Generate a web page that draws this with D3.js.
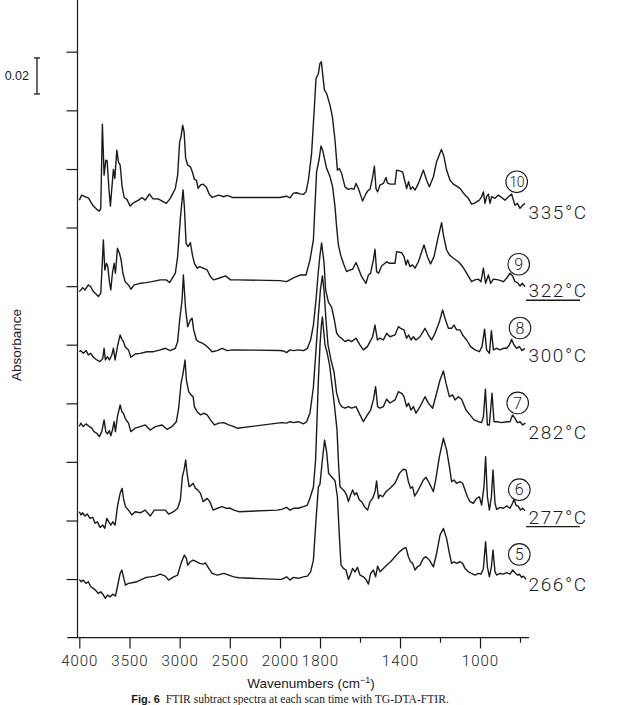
<!DOCTYPE html>
<html><head><meta charset="utf-8">
<script src="https://cdn.jsdelivr.net/npm/d3@7"></script>
<style>body{margin:0;background:#fff} svg{display:block}</style>
</head><body><svg id="c" width="617" height="705"></svg>
<script>
// ---- data (absorbance in mAbs, 0.02 Abs = 20 mAbs) ----
const scanNo = [10, 9, 8, 7, 6, 5];
const temps = ["335°C", "322°C", "300°C", "282°C", "277°C", "266°C"];
const underlined = [false, true, false, false, true, false];
const offsets = [244.4, 198.6, 159.3, 117.1, 70.0, 32.4];
const xTicksMajor = [4000, 3500, 3000, 2500, 2000, 1800, 1400, 1000];
const xTicksMinor = [1600, 1200, 800];
const yTicks = [32.6, 65.1, 97.7, 130.2, 162.8, 195.3, 227.9, 260.4, 293.0, 325.6];
const scaleBarValue = 20; // 0.02 Abs

const s335 = [[4000,-1.3],[3976,1.5],[3943,0.6],[3910,0],[3886,-2.2],[3860,-4.6],[3826,-6.4],[3800,-7.4],[3786,-5.9],[3770,40.9],[3753,12.6],[3736,20.9],[3723,20.6],[3706,6.1],[3690,-4.6],[3676,5.2],[3660,15.8],[3646,10.8],[3626,26.5],[3610,20.0],[3593,18.2],[3573,6.1],[3553,0.2],[3526,-0.9],[3493,-4.6],[3460,-2.8],[3410,-1.3],[3376,0.2],[3343,-1.3],[3300,2.1],[3266,-0.6],[3210,-0.7],[3133,-3.1],[3093,-0.3],[3043,5.2],[3020,12.6],[3000,31.1],[2986,33.9],[2970,40.4],[2956,36.7],[2940,21.9],[2920,18.2],[2893,17.2],[2873,14.4],[2853,10.2],[2833,9.8],[2816,5.2],[2793,7.1],[2766,7.6],[2733,5.8],[2706,2.1],[2676,0.2],[2610,1.5],[2560,0.6],[2526,1.3],[2476,0.2],[2000,0.2],[1983,0.6],[1967,0.9],[1950,0],[1933,2.6],[1917,2.8],[1900,2.2],[1883,1.9],[1870,3.3],[1858,9.8],[1842,24.7],[1828,50.6],[1820,66.3],[1808,69.1],[1800,74.7],[1793,75.6],[1787,69.1],[1778,59.8],[1767,58.0],[1750,51.5],[1738,45.0],[1725,32.1],[1713,15.4],[1703,16.3],[1692,13.6],[1675,6.1],[1658,4.7],[1642,5.2],[1630,4.7],[1620,8.0],[1608,5.2],[1597,1.5],[1587,-1.8],[1570,2.4],[1558,4.3],[1550,4.7],[1538,10.8],[1528,17.6],[1520,5.2],[1512,3.3],[1500,7.1],[1483,8.0],[1470,11.3],[1463,8.3],[1450,7.6],[1425,7.6],[1417,15.4],[1403,15.0],[1387,14.4],[1375,8.9],[1367,5.2],[1357,8.9],[1347,4.7],[1337,6.1],[1325,4.3],[1308,8.0],[1283,15.4],[1267,9.8],[1253,6.1],[1233,11.7],[1217,20.0],[1193,26.9],[1180,22.8],[1167,15.4],[1150,9.8],[1133,7.6],[1117,6.5],[1100,5.2],[1075,1.5],[1058,-0.3],[1042,-3.5],[1025,-2.8],[1003,-1.3],[992,0.6],[983,3.3],[975,-3.1],[967,0.6],[958,2.1],[950,-3.1],[942,0.6],[925,-0.3],[908,1.5],[892,0.2],[875,-1.3],[858,0.6],[842,2.1],[833,-1.3],[825,-4.1],[813,-3.1],[800,-5.9],[787,-4.1],[775,-3.1]];

const s322 = [[4000,-6.3],[3966,-4.1],[3943,-5.4],[3910,-2.6],[3886,-3.6],[3860,-6.3],[3833,-7.6],[3810,-9.1],[3786,-7.2],[3773,7.6],[3760,22.4],[3746,5.7],[3730,9.4],[3716,7.6],[3700,-0.8],[3686,-5.4],[3670,3.9],[3653,9.4],[3640,3.9],[3620,17.8],[3600,15.0],[3583,11.3],[3566,3.9],[3543,-0.8],[3510,-2.6],[3486,-5.0],[3453,-2.6],[3393,-1.7],[3333,-1.3],[3276,-0.8],[3193,0.2],[3133,0.2],[3100,-1.3],[3043,3.9],[3020,13.1],[2993,34.4],[2966,50.2],[2953,40.9],[2936,20.6],[2916,18.7],[2893,20.9],[2873,14.1],[2853,9.4],[2826,6.7],[2800,7.6],[2766,6.7],[2726,5.7],[2693,2.0],[2660,0.2],[2610,1.1],[2543,2.4],[2493,0.2],[2426,0.2],[2000,-0.2],[1967,-0.8],[1933,1.3],[1900,2.9],[1870,2.9],[1850,11.3],[1833,22.4],[1825,41.8],[1817,60.2],[1805,66.8],[1795,74.6],[1787,72.4],[1767,62.2],[1750,57.6],[1737,52.0],[1725,40.9],[1717,29.8],[1708,19.6],[1697,14.1],[1680,8.5],[1667,4.8],[1650,5.7],[1637,6.1],[1620,9.8],[1608,6.7],[1592,2.0],[1570,-1.7],[1558,2.9],[1547,3.9],[1533,11.3],[1525,17.2],[1517,4.8],[1507,3.9],[1492,7.9],[1475,9.4],[1467,10.3],[1453,9.4],[1425,9.4],[1417,15.9],[1392,15.3],[1380,13.1],[1370,8.5],[1362,11.3],[1350,7.6],[1337,8.5],[1325,6.7],[1308,10.3],[1280,19.6],[1263,13.1],[1247,9.1],[1230,13.1],[1210,23.5],[1192,32.0],[1183,25.2],[1167,16.8],[1153,14.1],[1133,12.2],[1108,10.3],[1087,7.6],[1067,3.9],[1042,-0.8],[1025,0.2],[1008,0.6],[995,-0.8],[983,6.7],[972,-1.7],[958,2.9],[947,-1.7],[933,0.6],[908,0.2],[883,-0.8],[867,1.1],[850,3.9],[837,2.4],[825,-0.8],[813,-1.3],[800,-3.2],[788,-1.7],[775,-3.6]];

const s300 = [[4000,-0.4],[3986,0.2],[3960,-1.3],[3933,0.2],[3910,-2.2],[3886,-1.3],[3860,-3.5],[3826,-5.0],[3793,-5.9],[3766,-4.1],[3753,1.5],[3740,-5.0],[3720,-3.2],[3700,-5.0],[3676,-2.2],[3660,1.5],[3643,-5.0],[3620,2.4],[3593,8.9],[3576,6.5],[3560,5.2],[3543,2.4],[3510,0.6],[3486,-3.5],[3443,-1.7],[3393,-1.3],[3326,-0.4],[3260,-0.4],[3193,0.6],[3143,1.5],[3093,0.2],[3043,1.5],[3020,5.2],[3000,17.2],[2976,28.3],[2963,42.2],[2940,22.8],[2920,13.5],[2893,17.2],[2876,18.2],[2860,11.7],[2833,6.1],[2810,5.2],[2776,4.3],[2743,3.3],[2710,1.5],[2676,-0.4],[2626,0.2],[2576,1.5],[2526,0.2],[2476,0.6],[2000,0.3],[1983,0],[1967,-0.9],[1950,0.6],[1933,0.2],[1908,0.6],[1883,0.2],[1863,1.5],[1847,6.1],[1833,14.4],[1820,28.3],[1810,42.2],[1800,53.3],[1792,60.0],[1780,49.4],[1772,33.9],[1758,27.2],[1742,24.4],[1728,17.2],[1717,10.0],[1703,7.8],[1692,7.1],[1675,5.2],[1658,6.1],[1642,5.2],[1620,7.1],[1600,3.3],[1583,0.6],[1563,2.4],[1550,5.2],[1537,7.9],[1525,14.4],[1513,6.1],[1500,7.1],[1483,6.1],[1467,9.8],[1450,7.9],[1425,8.9],[1408,13.5],[1397,12.6],[1380,11.7],[1367,7.1],[1357,8.9],[1345,6.1],[1333,7.9],[1320,6.1],[1300,7.9],[1275,12.6],[1258,8.9],[1242,6.1],[1225,9.8],[1203,16.3],[1187,22.8],[1175,18.2],[1158,12.6],[1142,12.6],[1130,14.4],[1117,11.7],[1100,11.7],[1087,8.9],[1067,6.1],[1047,2.4],[1025,0.6],[1003,-0.4],[990,2.4],[977,12.1],[967,0.6],[953,-1.3],[943,11.3],[933,0.6],[917,1.5],[900,0.6],[883,1.5],[867,1.5],[853,3.3],[842,6.5],[830,3.3],[817,1.5],[803,2.4],[790,0.2],[775,1.5]];

const s282 = [[4000,0.2],[3986,2.1],[3960,0.2],[3933,1.7],[3900,0.2],[3876,-0.7],[3853,-2.6],[3826,-3.5],[3800,-5.4],[3776,-2.6],[3753,3.9],[3736,-2.6],[3720,-3.9],[3700,-2.1],[3686,-5.0],[3670,-1.7],[3653,2.9],[3640,-2.6],[3620,5.7],[3593,12.2],[3576,8.5],[3560,7.6],[3543,4.8],[3510,2.1],[3486,-2.6],[3443,-0.7],[3393,0.2],[3343,1.1],[3293,-1.7],[3243,0.2],[3176,1.1],[3126,-1.3],[3076,0.2],[3033,2.9],[3010,10.4],[2986,24.3],[2966,29.8],[2946,37.2],[2933,26.1],[2910,19.6],[2886,17.8],[2866,16.8],[2853,11.3],[2826,8.5],[2793,6.7],[2760,7.6],[2726,6.7],[2693,3.9],[2653,1.1],[2610,2.1],[2560,2.4],[2510,1.1],[2460,0.2],[2426,-0.7],[1992,2.4],[1967,2.1],[1950,2.9],[1933,2.4],[1908,2.9],[1883,1.7],[1867,2.9],[1850,7.8],[1833,22.2],[1820,42.8],[1808,62.2],[1798,76.1],[1788,83.9],[1780,76.1],[1770,59.4],[1760,45.6],[1745,37.2],[1730,30.6],[1717,18.9],[1703,13.3],[1692,11.3],[1675,10.4],[1658,11.3],[1642,10.4],[1620,11.3],[1600,6.7],[1583,2.9],[1563,6.7],[1547,9.4],[1533,15.0],[1522,22.4],[1512,11.3],[1500,10.4],[1483,11.3],[1467,15.4],[1450,13.3],[1425,15.0],[1408,19.6],[1392,18.7],[1380,16.8],[1367,11.3],[1357,13.2],[1345,9.4],[1333,11.3],[1320,7.6],[1300,11.3],[1275,16.8],[1258,13.2],[1237,10.4],[1217,18.7],[1200,26.1],[1183,31.1],[1170,24.3],[1153,16.8],[1137,17.8],[1125,15.0],[1108,16.8],[1092,15.4],[1070,9.4],[1050,6.7],[1030,3.9],[1008,2.9],[992,2.4],[983,5.7],[973,20.9],[963,1.1],[953,1.1],[940,18.7],[930,2.9],[913,2.9],[892,2.4],[867,2.9],[850,2.9],[837,6.7],[825,4.8],[813,2.4],[800,2.9],[787,1.1],[773,2.1]];

const s277 = [[4000,0],[3983,-1.8],[3966,-0.6],[3943,-2.4],[3920,-1.3],[3893,-3.7],[3866,-3.1],[3843,-6.4],[3820,-5.6],[3793,-8.7],[3766,-7.4],[3746,-9.2],[3726,-3.7],[3706,-5.6],[3686,-7.4],[3666,-5.6],[3643,-7.4],[3620,2.8],[3593,10.2],[3573,13.0],[3560,7.4],[3540,2.8],[3510,0.9],[3476,-1.8],[3443,0],[3393,-0.6],[3343,0.9],[3293,-2.4],[3253,0.9],[3193,0.9],[3143,0.9],[3110,-1.3],[3060,0],[3020,1.9],[2993,6.5],[2973,19.4],[2956,23.2],[2940,28.7],[2926,21.3],[2906,13.9],[2883,14.8],[2866,15.8],[2843,13.0],[2820,12.1],[2793,10.2],[2766,5.6],[2726,7.4],[2700,5.6],[2666,0.9],[2626,1.9],[2576,2.8],[2533,1.9],[2493,1.9],[2460,0.9],[2410,0],[2026,0.9],[1992,1.3],[1967,2.4],[1950,0.9],[1933,1.9],[1908,1.9],[1883,2.8],[1863,3.7],[1850,7.6],[1833,13.7],[1822,28.7],[1815,50.9],[1808,73.2],[1800,92.6],[1793,103.7],[1788,108.2],[1782,101.0],[1775,92.6],[1765,88.7],[1752,81.5],[1740,70.4],[1728,59.3],[1715,45.4],[1707,25.9],[1700,13.9],[1692,13.0],[1680,11.7],[1667,9.3],[1658,5.6],[1647,9.3],[1637,12.1],[1627,9.3],[1617,10.6],[1603,6.5],[1592,5.6],[1575,2.4],[1562,0.9],[1550,5.6],[1537,7.4],[1525,11.1],[1517,17.1],[1508,7.4],[1500,9.3],[1487,8.3],[1470,11.1],[1450,13.0],[1425,15.8],[1403,21.3],[1383,23.6],[1370,23.2],[1358,16.7],[1347,13.0],[1337,13.9],[1327,8.7],[1313,11.1],[1300,13.9],[1283,17.6],[1270,19.1],[1253,15.8],[1233,11.1],[1220,18.6],[1203,30.6],[1183,40.8],[1167,34.3],[1153,25.0],[1142,16.7],[1130,17.6],[1117,15.8],[1100,16.7],[1087,15.8],[1075,12.1],[1063,8.3],[1050,5.6],[1033,4.7],[1017,7.4],[1003,8.3],[992,3.7],[980,13.9],[972,30.6],[963,8.3],[953,0.9],[943,8.3],[935,23.2],[925,4.7],[917,1.3],[900,2.4],[883,1.9],[867,3.2],[850,1.9],[837,4.7],[830,6.9],[820,3.7],[808,2.8],[797,0.9],[787,1.9],[775,0.6]];

const s266 = [[4000,0],[3980,-1.3],[3960,-0.4],[3933,-2.2],[3910,-1.3],[3886,-4.1],[3860,-5.0],[3833,-6.3],[3810,-7.8],[3786,-6.9],[3760,-8.7],[3740,-10.6],[3720,-8.7],[3693,-9.7],[3666,-8.2],[3640,-9.3],[3620,-4.1],[3593,3.3],[3576,5.2],[3560,1.4],[3540,-3.2],[3510,-2.2],[3476,-1.9],[3426,-1.3],[3376,0],[3333,1.1],[3293,1.4],[3243,1.8],[3193,2.9],[3143,1.8],[3110,-0.4],[3060,1.4],[3020,2.4],[2986,8.9],[2953,13.5],[2933,11.7],[2920,7.9],[2893,9.8],[2866,10.7],[2833,9.8],[2800,8.9],[2766,8.5],[2743,9.2],[2710,6.1],[2676,3.3],[2626,2.4],[2560,3.3],[2510,2.4],[2460,1.4],[2410,0.9],[2026,0],[1992,0],[1967,1.4],[1950,-0.4],[1933,1.1],[1908,0.6],[1883,1.4],[1863,1.8],[1847,4.2],[1833,10.7],[1820,32.9],[1808,51.4],[1800,52.9],[1790,64.4],[1777,77.4],[1767,70.9],[1757,58.9],[1742,57.0],[1725,54.8],[1713,45.9],[1703,23.7],[1695,7.9],[1683,6.1],[1670,5.2],[1658,0],[1647,2.9],[1637,6.1],[1625,4.2],[1613,6.7],[1600,2.4],[1583,1.4],[1570,0],[1558,-2.6],[1547,3.3],[1533,5.2],[1522,1.4],[1512,7.4],[1500,4.2],[1483,6.1],[1467,7.9],[1447,9.8],[1425,12.6],[1403,15.3],[1383,17.2],[1370,17.6],[1358,12.6],[1347,9.8],[1337,8.9],[1325,5.2],[1313,7.0],[1300,7.9],[1283,11.7],[1270,12.6],[1253,10.7],[1233,7.0],[1217,14.4],[1200,24.6],[1183,28.3],[1167,22.8],[1153,14.4],[1142,8.9],[1130,9.8],[1117,8.9],[1100,9.8],[1087,8.9],[1075,6.1],[1058,4.2],[1042,3.3],[1025,2.4],[1008,3.3],[995,2.9],[983,6.1],[972,20.9],[963,7.0],[953,1.4],[943,7.0],[935,16.3],[925,4.2],[917,2.4],[900,3.3],[883,2.9],[867,3.7],[850,2.9],[837,5.2],[825,3.7],[813,2.4],[803,2.9],[792,1.1],[783,1.8],[770,0]];

const spectra = [s335, s322, s300, s282, s277, s266];

// ---- layout ----
const svg = d3.select("#c");
const x = d3.scaleLinear().domain([4000, 2000, 800]).range([79.3, 280, 520]);
const y = d3.scaleLinear().domain([0, 354.3]).range([637.7, 0]);
const ink = "#1a1a1a";
const sans = "Liberation Sans, Arial, sans-serif";
const thin = "Roboto, Liberation Sans, Arial, sans-serif";

// y axis
const yAxisX = 77.5;
const gy = svg.append("g").attr("transform", `translate(${yAxisX},0)`)
  .call(d3.axisLeft(y).tickValues(yTicks).tickSize(11).tickFormat(""));
gy.select(".domain").remove();
gy.selectAll("line").attr("stroke", ink).attr("stroke-width", 1.2);
svg.append("line").attr("x1", yAxisX).attr("x2", yAxisX).attr("y1", y(354.3)).attr("y2", y(0))
  .attr("stroke", ink).attr("stroke-width", 1.2);

// x axis
const gx = svg.append("g").attr("transform", `translate(0,${y(0)})`)
  .call(d3.axisBottom(x).tickValues(xTicksMajor).tickSize(10.7).tickPadding(7).tickFormat(d3.format("d")));
gx.select(".domain").remove();
gx.selectAll("line").attr("stroke", ink).attr("stroke-width", 1.2);
gx.selectAll("text").attr("font-family", thin).attr("font-weight", 300).attr("font-size", 15)
  .attr("letter-spacing", 1).attr("fill", ink);
const gxm = svg.append("g").attr("transform", `translate(0,${y(0)})`)
  .call(d3.axisBottom(x).tickValues(xTicksMinor).tickSize(5).tickFormat(""));
gxm.select(".domain").remove();
gxm.selectAll("line").attr("stroke", ink).attr("stroke-width", 1.2);
svg.append("line").attr("x1", x(4120)).attr("x2", x(755)).attr("y1", y(0)).attr("y2", y(0))
  .attr("stroke", ink).attr("stroke-width", 1.3);

// spectra
const line = d3.line().x(d => x(d[0]));
spectra.forEach((s, i) => {
  svg.append("path")
    .attr("d", line.y(d => y(d[1] + offsets[i]))(s))
    .attr("fill", "none").attr("stroke", ink).attr("stroke-width", 1.4)
    .attr("stroke-linejoin", "round");
});

// trace labels
const circleDy = [-16, -16, -23, -24, -22, -25];
const textDy = [14, 10, 4, 5, 5, 5];
const circleX = [516.7, 518.7, 520, 517.7, 519.3, 519.3];
scanNo.forEach((n, i) => {
  const base = y(offsets[i]);
  const cx = circleX[i], cy = base + circleDy[i];
  svg.append("circle").attr("cx", cx).attr("cy", cy).attr("r", 10.8)
    .attr("fill", "none").attr("stroke", ink).attr("stroke-width", 1.1);
  svg.append("text").attr("x", cx).attr("y", cy).attr("dy", "0.36em")
    .attr("text-anchor", "middle").attr("font-family", thin).attr("font-weight", 300)
    .attr("font-size", n >= 10 ? 14 : 16).attr("letter-spacing", n >= 10 ? -0.5 : 0)
    .attr("fill", ink).text(n);
  const ty = base + textDy[i];
  svg.append("text").attr("x", 528.5).attr("y", ty).attr("dy", "0.36em")
    .attr("font-family", thin).attr("font-weight", 300).attr("font-size", 19).attr("letter-spacing", 1.6)
    .attr("fill", ink).text(temps[i]);
  if (underlined[i]) {
    svg.append("line").attr("x1", 526).attr("x2", 580).attr("y1", ty + 10).attr("y2", ty + 10)
      .attr("stroke", ink).attr("stroke-width", 1.3);
  }
});

// scale bar 0.02
const sbTop = y(302.1 + scaleBarValue), sbBot = y(302.1);
svg.append("line").attr("x1", 37).attr("x2", 37).attr("y1", sbTop).attr("y2", sbBot).attr("stroke", ink).attr("stroke-width", 1.3);
svg.append("line").attr("x1", 34).attr("x2", 40).attr("y1", sbTop).attr("y2", sbTop).attr("stroke", ink).attr("stroke-width", 1.3);
svg.append("line").attr("x1", 34).attr("x2", 40).attr("y1", sbBot).attr("y2", sbBot).attr("stroke", ink).attr("stroke-width", 1.3);
svg.append("text").attr("x", 29).attr("y", (sbTop + sbBot) / 2).attr("dy", "0.36em")
  .attr("text-anchor", "end").attr("font-family", sans)
  .attr("font-size", 12.5).attr("fill", ink).text("0.02");

// axis titles
svg.append("text").attr("transform", "translate(21,345) rotate(-90)")
  .attr("text-anchor", "middle").attr("font-family", sans)
  .attr("font-size", 13.5).attr("fill", ink).text("Absorbance");
const xt = svg.append("text").attr("x", 311).attr("y", 688).attr("text-anchor", "middle")
  .attr("font-family", sans).attr("font-size", 13.5).attr("fill", ink);
xt.append("tspan").text("Wavenumbers (cm");
xt.append("tspan").attr("font-size", 9).attr("dy", -5).text("−1");
xt.append("tspan").attr("dy", 5).text(")");

// caption
const cap = svg.append("text").attr("x", 290).attr("y", 703).attr("text-anchor", "middle").attr("fill", ink);
cap.append("tspan").attr("font-family", sans).attr("font-weight", "bold").attr("font-size", 11).text("Fig. 6");
cap.append("tspan").attr("font-family", "Liberation Serif, Times New Roman, serif").attr("font-size", 11.6).text("\u2002FTIR subtract spectra at each scan time with TG-DTA-FTIR.");
</script></body></html>
